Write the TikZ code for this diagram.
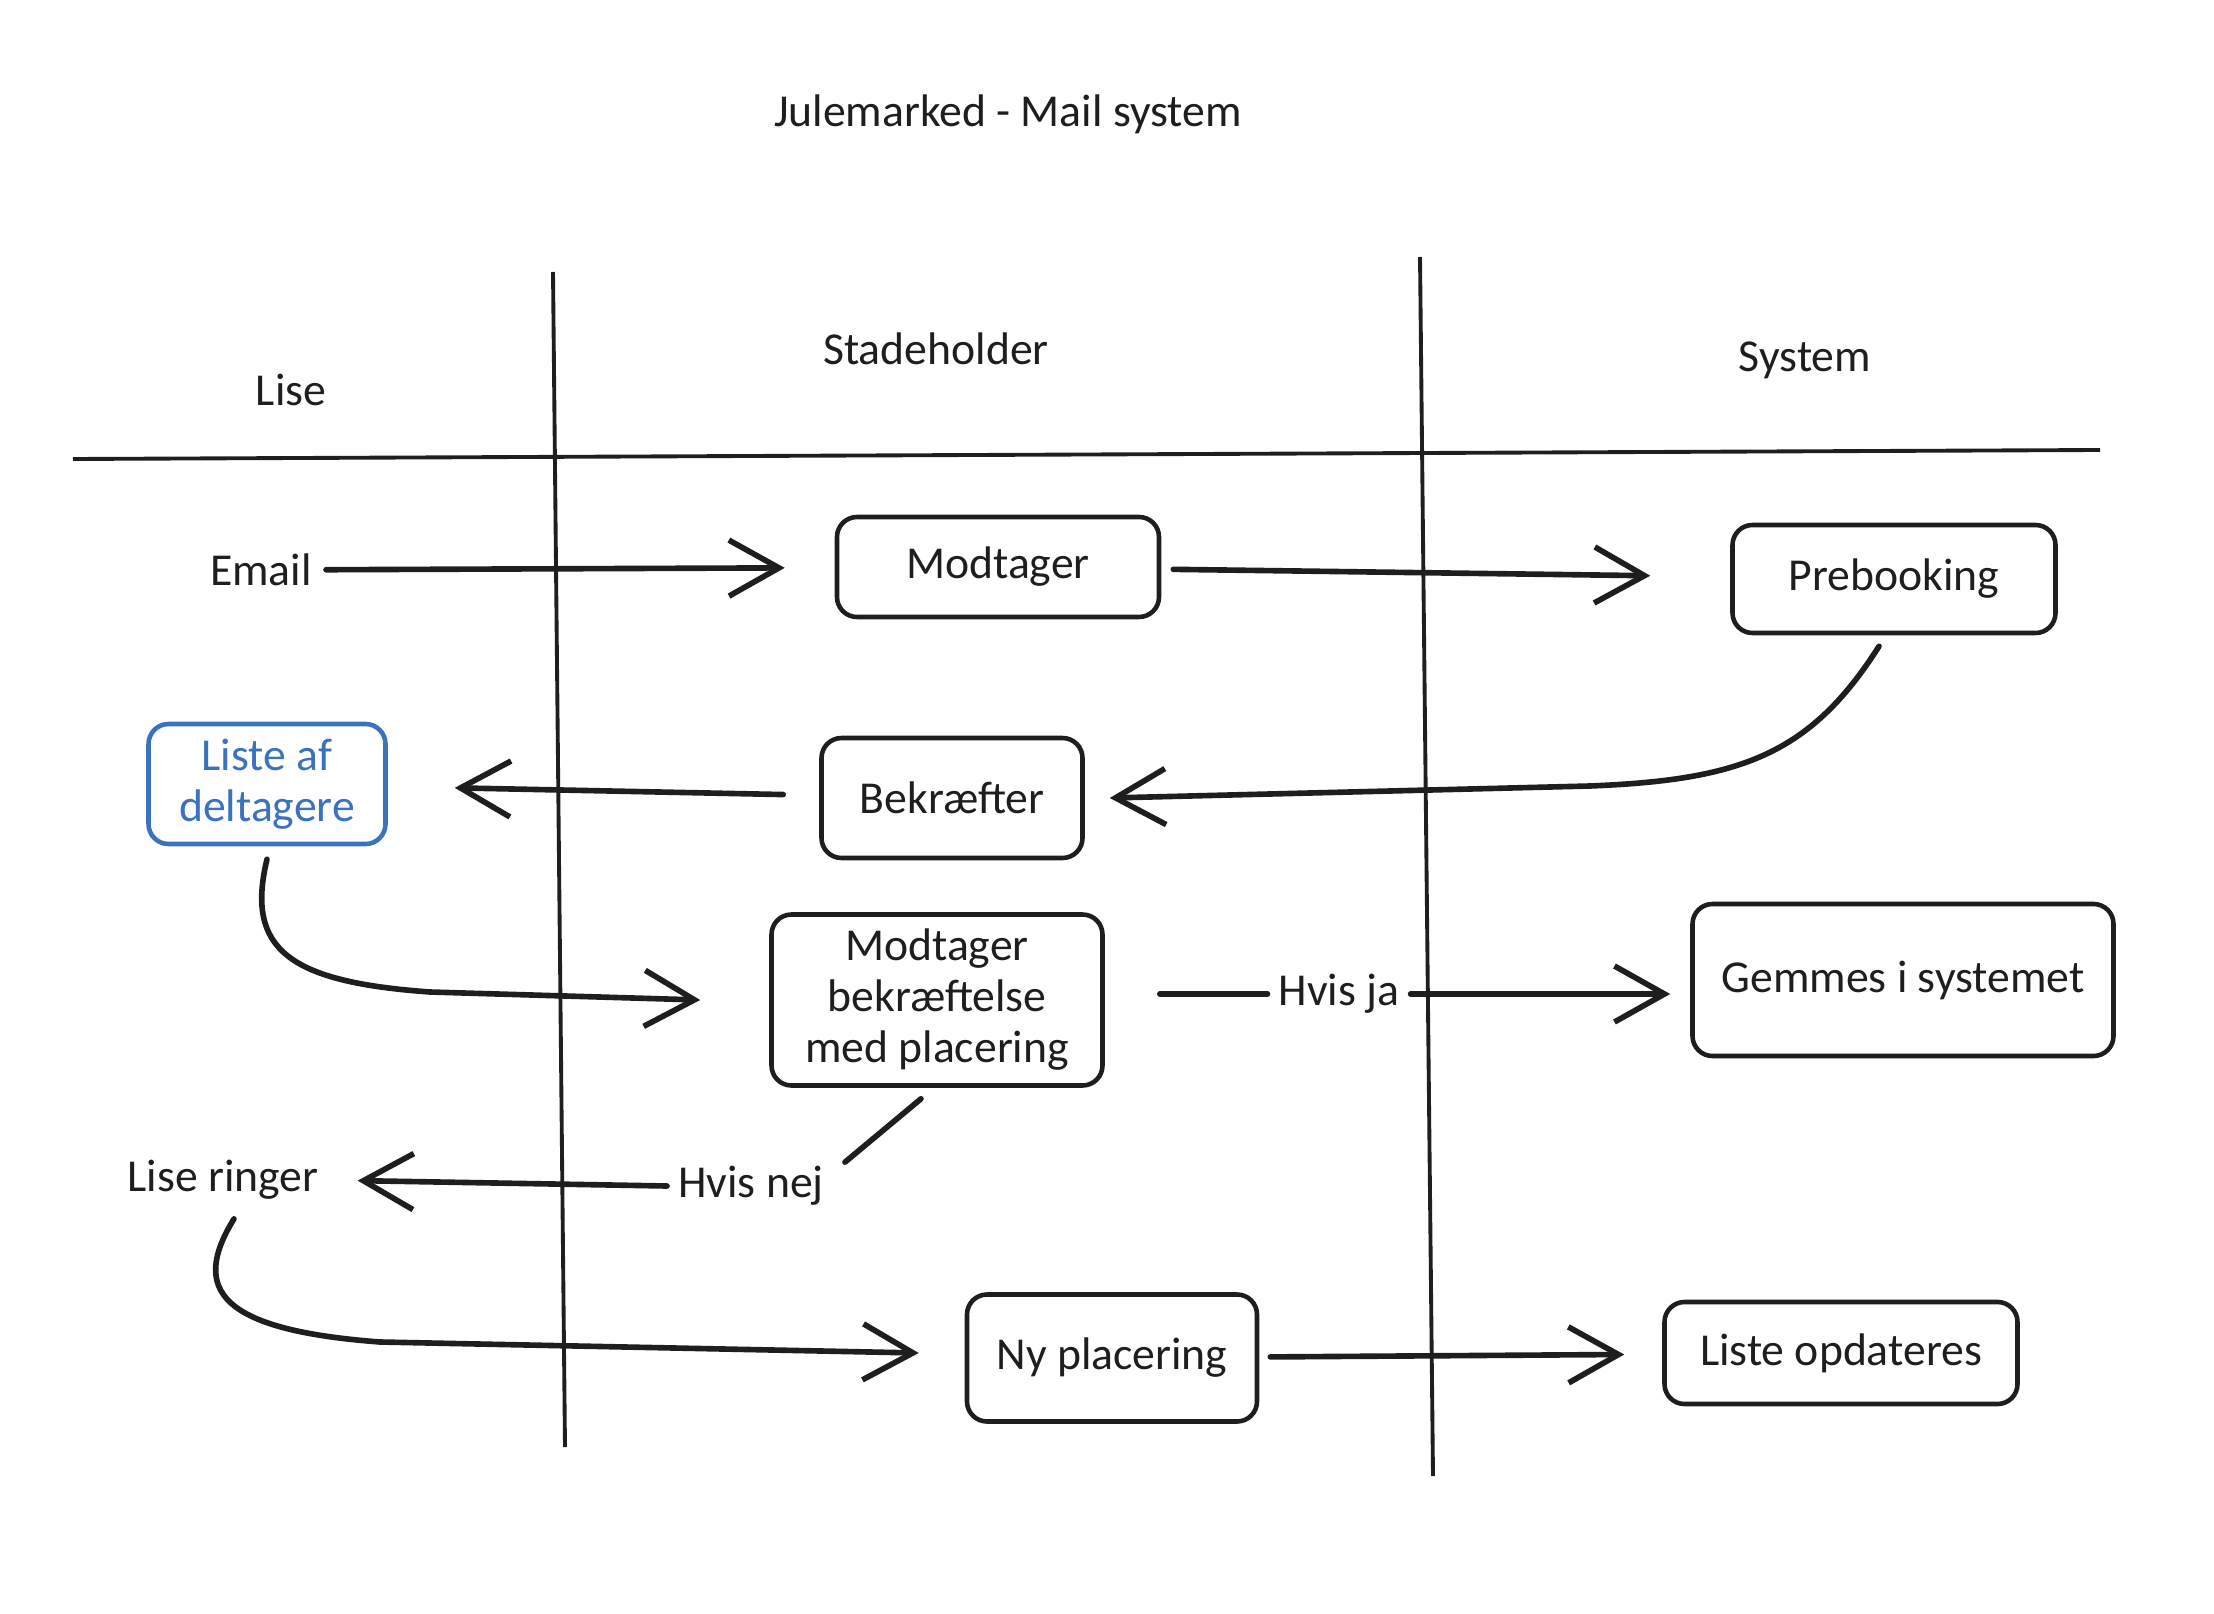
\documentclass[tikz,border=0pt]{standalone}
\usepackage{fontspec}
\setmainfont{Carlito}
\usetikzlibrary{arrows.meta}
\definecolor{ink}{HTML}{1E1E1E}
\definecolor{listblue}{HTML}{3A72BE}

\begin{document}
\begin{tikzpicture}[
    font=\fontsize{13}{14.5}\selectfont,
    >={Straight Barb[length=5mm,width=5.6mm]},
    box/.style={draw=ink, text=ink, rectangle, rounded corners=2mm, line width=1.3pt, align=center, inner sep=2pt},
    bluebox/.style={box, draw=listblue, text=listblue},
    txt/.style={text=ink, inner sep=1pt, align=center},
    cond/.style={txt, inner xsep=3pt},
    lane/.style={draw=ink, line width=1.1pt},
    plain/.style={draw=ink, line width=1.6pt, line cap=round},
    arrow/.style={plain, ->}
  ]
    \useasboundingbox (0,0) rectangle (22.14,-16.14);

    \node[txt] (title) at (10.08,-1.14) {Julemarked - Mail system};
    \node[txt] (hlise) at (2.91,-3.90) {Lise};
    \node[txt] (hstade) at (9.36,-3.49) {Stadeholder};
    \node[txt] (hsystem) at (18.05,-3.60) {System};

    \coordinate (laneAtop) at (5.53,-2.72);
    \coordinate (laneAbot) at (5.65,-14.47);
    \coordinate (laneBtop) at (14.20,-2.57);
    \coordinate (laneBbot) at (14.33,-14.76);
    \coordinate (headL) at (0.73,-4.59);
    \coordinate (headR) at (21.00,-4.50);
    \draw[lane] (laneAtop) -- (laneAbot);
    \draw[lane] (laneBtop) -- (laneBbot);
    \draw[lane] (headL) -- (headR);

    \node[txt] (email) at (2.61,-5.70) {Email};
    \node[box, minimum width=3.22cm, minimum height=1.00cm] (modt) at (9.98,-5.67) {Modtager};
    \node[box, minimum width=3.23cm, minimum height=1.08cm] (preb) at (18.94,-5.79) {Prebooking};
    \node[bluebox, minimum width=2.37cm, minimum height=1.20cm] (liste) at (2.67,-7.84) {Liste af\\deltagere};
    \node[box, minimum width=2.61cm, minimum height=1.20cm] (bekr) at (9.52,-7.98) {Bekræfter};
    \node[box, minimum width=3.31cm, minimum height=1.71cm] (mbekr) at (9.37,-10.00) {Modtager\\bekræftelse\\med placering};
    \node[box, minimum width=4.21cm, minimum height=1.52cm] (gemmes) at (19.03,-9.80) {Gemmes i systemet};
    \node[cond] (hvisja) at (13.39,-9.94) {Hvis ja};
    \node[cond] (hvisnej) at (7.51,-11.86) {Hvis nej};
    \node[txt] (liseringer) at (2.23,-11.80) {Lise ringer};
    \node[box, minimum width=2.90cm, minimum height=1.27cm] (nyplac) at (11.12,-13.58) {Ny placering};
    \node[box, minimum width=3.53cm, minimum height=1.02cm] (listeop) at (18.41,-13.53) {Liste opdateres};

    \draw[arrow, shorten <=1mm, shorten >=5mm] (email) -- (modt);
    \draw[arrow, shorten <=1.2mm, shorten >=8mm] (modt) -- (preb);
    \draw[arrow] ([xshift=-1.5mm,yshift=-1.1mm]preb.south) .. controls (18.1,-7.55) and (17.4,-7.80) .. (15.9,-7.86) -- ([xshift=2.5mm]bekr.east);
    \draw[arrow, shorten <=3.6mm, shorten >=6.7mm] (bekr) -- (liste);
    \draw[arrow] ([yshift=-1.3mm]liste.south) .. controls (2.45,-9.5) and (2.9,-9.82) .. (4.3,-9.92) -- ([xshift=-6.9mm]mbekr.west);
    \draw[plain, shorten <=5.5mm] (mbekr.east |- hvisja) -- (hvisja.west);
    \draw[arrow, shorten >=2mm] (hvisja.east) -- (gemmes.west |- hvisja);
    \draw[plain] ([xshift=-1.6mm,yshift=-1.1mm]mbekr.south) -- ([xshift=1mm]hvisnej.north east);
    \draw[arrow, shorten >=3.5mm] (hvisnej.west) -- (liseringer.east);
    \draw[arrow] ([xshift=1.1mm,yshift=-1.5mm]liseringer.south) .. controls (1.9,-12.9) and (2.2,-13.3) .. (3.8,-13.42) -- ([xshift=-4.6mm,yshift=0.5mm]nyplac.west);
    \draw[arrow, shorten <=1.1mm, shorten >=3.8mm] (nyplac) -- (listeop);
\end{tikzpicture}
\end{document}
